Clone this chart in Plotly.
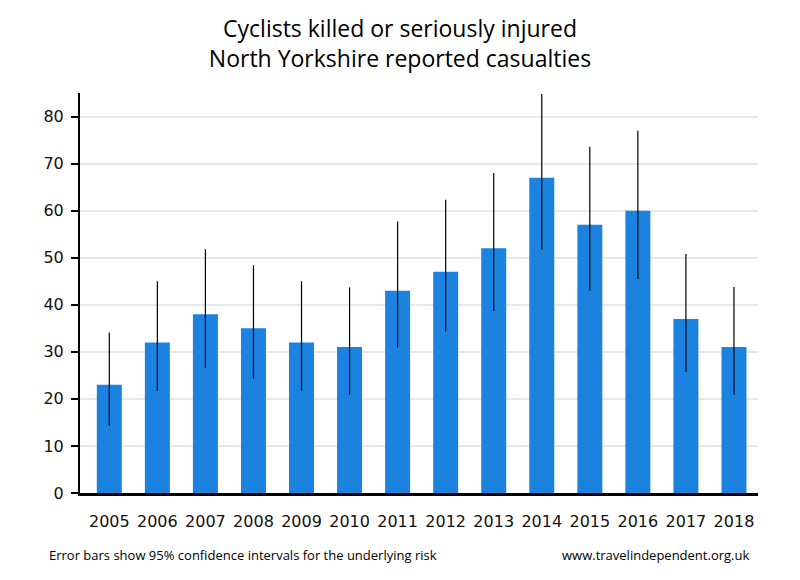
import plotly.graph_objects as go

years = ["2005", "2006", "2007", "2008", "2009", "2010", "2011", "2012", "2013", "2014", "2015", "2016", "2017", "2018"]
casualties = [23, 32, 38, 35, 32, 31, 43, 47, 52, 67, 57, 60, 37, 31]
ci_upper = [34.1, 45.0, 51.8, 48.4, 45.0, 43.7, 57.7, 62.3, 68.0, 84.8, 73.6, 77.0, 50.8, 43.8]
ci_lower = [14.3, 21.7, 26.6, 24.3, 21.7, 20.9, 30.9, 34.3, 38.7, 51.7, 43.0, 45.5, 25.7, 20.9]

err_plus = [u - v for u, v in zip(ci_upper, casualties)]
err_minus = [v - l for v, l in zip(casualties, ci_lower)]

fig = go.Figure()
fig.add_trace(go.Bar(
    x=years, y=casualties,
    marker=dict(color="#1b82e0", line=dict(width=0)),
    width=0.52,
    error_y=dict(type="data", symmetric=False, array=err_plus, arrayminus=err_minus,
                 color="black", thickness=1.2, width=0),
))

fig.update_layout(
    width=800, height=580,
    margin=dict(l=80, r=42, t=93, b=87),
    paper_bgcolor="white", plot_bgcolor="white",
    showlegend=False,
    title=dict(text="Cyclists killed or seriously injured<br>North Yorkshire reported casualties",
               x=0.5, xanchor="center", y=0.936, yanchor="top",
               font=dict(family="Open Sans, sans-serif", size=23, color="black")),
    font=dict(family="DejaVu Sans, sans-serif", color="#111"),
)
fig.update_xaxes(
    type="category", range=[-0.61, 13.5],
    showline=True, linecolor="black", linewidth=3,
    showgrid=False, ticks="", ticklabelstandoff=12,
    tickfont=dict(size=16, color="#111"),
)
fig.update_yaxes(
    range=[0, 85], tickvals=[0, 10, 20, 30, 40, 50, 60, 70, 80],
    showline=True, linecolor="black", linewidth=2,
    showgrid=True, gridcolor="#e8e8e8", gridwidth=2,
    ticks="outside", ticklen=7, tickcolor="black", tickwidth=1.5,
    ticklabelstandoff=4,
    tickfont=dict(size=16, color="#111"), zeroline=False,
)
fig.add_annotation(text="Error bars show 95% confidence intervals for the underlying risk",
                   xref="paper", yref="paper", x=-0.048, y=-0.155, xanchor="left", yanchor="middle",
                   showarrow=False, font=dict(family="Liberation Sans Narrow, Open Sans, sans-serif", size=13, color="black"))
fig.add_annotation(text="www.travelindependent.org.uk",
                   xref="paper", yref="paper", x=0.99, y=-0.155, xanchor="right", yanchor="middle",
                   showarrow=False, font=dict(family="Liberation Sans Narrow, Open Sans, sans-serif", size=13, color="black"))

fig.write_html("out.html")
